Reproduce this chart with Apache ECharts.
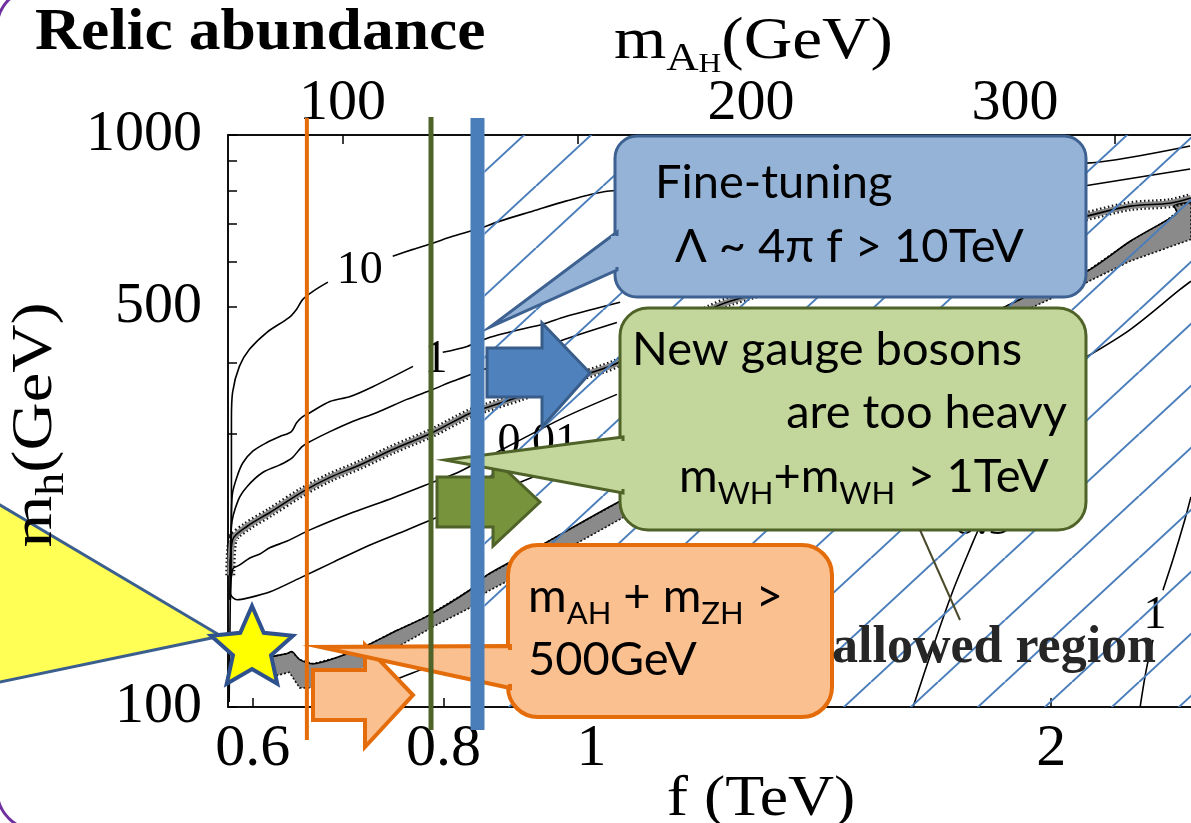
<!DOCTYPE html>
<html>
<head>
<meta charset="utf-8">
<title>Relic abundance</title>
<script src="https://cdn.jsdelivr.net/npm/echarts@6.0.0/dist/echarts.min.js"></script>
<style>
html, body { margin: 0; padding: 0; background: #fff; }
#chart { width: 1191px; height: 823px; }
</style>
</head>
<body>
<div id="chart"></div>
<script>
// axis ranges: f in TeV (bottom), m_h in GeV (left), both log scales
var fRange = [0.578, 2.611];
var mhRange = [100, 1000];
var fTicks = [0.6, 0.8, 1, 2];
var mhTicks = [100, 200, 300, 400, 500, 600, 700, 800, 900, 1000];
var mhLabels = [100, 500, 1000];
// top axis m_AH(GeV), given as the f where each value sits
var mAHLabelF = [0.687, 1.272, 1.894];
var mAHLabels = ['100', '200', '300'];
var mAHTickF = [0.687, 0.98, 2.202];

// cuts (f in TeV)
var fOrangeCut = 0.651;
var fGreenCut = 0.785;
var fBlueCut = 0.842;
var fHatchFrom = 0.851;

// contour lines [f, m_h]; null = gap where a label sits
var cont10 = [[0.579,102],[0.580,154],[0.581,230],[0.581,318],[0.582,355],[0.588,394],[0.597,422],[0.613,452],[0.634,480],[0.641,496],[0.647,516],[0.657,533],[0.672,553], null,
  [0.741,614],[0.764,631],[0.787,647],[0.811,665],[0.841,684],[0.871,707],[0.915,736],[0.963,767],[1.028,798],[2.111,893],[2.466,957]];
var cont1 = [[0.580,154],[0.581,219],[0.582,237],[0.586,253],[0.591,267],[0.600,280],[0.613,290],[0.625,297],[0.636,303],[0.641,314],[0.646,321],[0.654,327],[0.674,342],[0.695,349],[0.719,363],[0.764,394], null,
  [0.799,417],[0.829,427],[0.858,443],[0.898,457],[0.929,467],[0.963,482],[1.044,510], null, [2.111,816],[2.466,872]];
var cont3 = [[0.580,154],[0.581,207],[0.587,230],[0.595,243],[0.609,257],[0.625,265],[0.637,273],[0.646,285],[0.654,291],[0.674,303],[0.698,316],[0.723,327],[0.757,345],[0.787,359],[0.811,371],[0.953,436],[1.039,470]];
var cont5 = [[0.580,154],[0.582,174],[0.588,177],[0.597,182],[0.606,185],[0.616,190],[0.632,195],[0.654,204],[0.698,219],[0.741,232],[0.787,247],[0.820,258],[0.953,318],[1.039,352]];
var cont6 = [[0.580,181],[0.580,158],[0.586,154],[0.595,155],[0.616,159],[0.644,168],[0.677,179],[0.716,192],[0.757,204],[0.787,213],[0.894,246],[1.039,288]];
var cont7 = [[0.716,105],[0.741,111],[0.772,116],[0.791,119]];
var contRight = [[2.111,410],[2.253,457],[2.429,537],[2.469,555]];
var cont05 = [[1.796,207],[1.777,194],[1.725,160],[1.673,127],[1.624,100]];
var cont1Right = [[2.469,233],[2.447,213],[2.403,181],[2.367,160], null, [2.332,131],[2.308,116],[2.287,100]];

// relic band: thin upper arm (centre line) and thick lower arm (edges)
var bandUpper = [[0.580,170],[0.582,196],[0.595,207],[0.616,219],[0.647,238],[0.674,252],[0.705,265],[0.741,282],[0.787,302],[0.832,326],[0.854,334],[0.898,349],[0.968,374],[1.039,399],[1.232,512],[2.108,721],[2.253,751],[2.392,760],[2.469,776]];
var bandLowerTop = [[0.604,120],[0.613,122],[0.632,124],[0.636,125],[0.644,121],[0.657,119],[0.681,122],[0.708,127],[0.741,135],[0.780,144],[0.832,160],[0.854,170],[0.915,188],[1.044,229],[1.919,520],[2.111,578],[2.253,652],[2.381,710],[2.418,733],[2.407,751],[2.469,763]];
var bandLowerBottom = [[0.606,114],[0.618,113],[0.634,115],[0.644,108],[0.657,108],[0.684,111],[0.741,126],[0.791,139],[0.832,149],[0.854,159],[0.915,175],[1.044,213],[1.919,492],[2.111,553],[2.253,602],[2.469,657]];

// contour labels
var labelF = [0.705, 0.791, 0.922, 1.802, 2.339];
var labelMh = [578, 405, 290, 211, 144];
var labelText = ['10', '1', '0.01', '0.5', '1'];

var chart = echarts.init(document.getElementById('chart'));
var SERIF = '"Liberation Serif", "DejaVu Serif", serif';
var SANS = 'Lato, "Noto Sans", sans-serif';

function lg(v) { return Math.log10(v); }
function toXY(p) { return [lg(p[0]), lg(p[1])]; }

function segments(pts) {
  var out = [], cur = [];
  pts.forEach(function (p) {
    if (p === null) { if (cur.length) out.push(cur); cur = []; }
    else cur.push(toXY(p));
  });
  if (cur.length) out.push(cur);
  return out;
}

function lineSeries(pts, style, z) {
  return segments(pts).map(function (seg) {
    return { type: 'line', data: seg, symbol: 'none', smooth: 0.3, silent: true,
      lineStyle: style, z: z };
  });
}

function polygonSeries(pts, style, z) {
  return { type: 'custom', data: [[lg(1), lg(200)]], z: z, silent: true,
    renderItem: function (params, api) {
      return { type: 'polygon',
        shape: { points: pts.map(function (p) { return api.coord(toXY(p)); }) },
        style: style };
    } };
}

function hatchCanvas() {
  var w = 67, h = 62;
  var c = document.createElement('canvas');
  c.width = w; c.height = h;
  var g = c.getContext('2d');
  g.strokeStyle = '#4a7ebb';
  g.lineWidth = 2;
  [-w, 0, w].forEach(function (o) {
    g.beginPath(); g.moveTo(o, h); g.lineTo(o + w, 0); g.stroke();
  });
  return c;
}

var black = { color: '#000', width: 1.6 };
var series = [];
series.push(polygonSeries(bandLowerTop.concat(bandLowerBottom.slice().reverse()),
  { fill: '#8a8a8a', stroke: '#111', lineWidth: 1.6, lineDash: [2, 2] }, 2));
series = series.concat(lineSeries(bandLowerTop, black, 3));
series = series.concat(lineSeries(bandUpper, { color: '#111', width: 10, type: [1.5, 2.5] }, 2));
series = series.concat(lineSeries(bandUpper, { color: '#8a8a8a', width: 6 }, 2));
series = series.concat(lineSeries(bandUpper, black, 3));
[cont10, cont1, cont3, cont5, cont6, cont7, contRight, cont05, cont1Right].forEach(function (c) {
  series = series.concat(lineSeries(c, black, 3));
});
series.push({
  type: 'scatter', symbolSize: 0.1, z: 4, silent: true,
  itemStyle: { color: '#000', opacity: 1 },
  data: labelF.map(function (f, i) { return { value: toXY([f, labelMh[i]]), name: labelText[i] }; }),
  label: { show: true, position: 'inside', formatter: '{b}', color: '#000', opacity: 1,
    textBorderWidth: 0, fontFamily: SERIF, fontSize: 46 }
});
series.push({
  type: 'custom', z: 5, silent: true,
  encode: { x: [0, 2], y: [1, 3] },
  data: [[lg(fHatchFrom), lg(mhRange[0]), lg(fRange[1]), lg(mhRange[1])]],
  renderItem: function (params, api) {
    var p0 = api.coord([api.value(0), api.value(1)]);
    var p1 = api.coord([api.value(2), api.value(3)]);
    return { type: 'rect',
      shape: { x: p0[0], y: p1[1], width: p1[0] - p0[0], height: p0[1] - p1[1] },
      style: { fill: { image: hatchCanvas(), repeat: 'repeat' } } };
  }
});

function tevLabel(v) { return String(Math.round(Math.pow(10, v) * 10) / 10); }
function topLabel(v) {
  var best = 0;
  mAHLabelF.forEach(function (f, i) {
    if (Math.abs(lg(f) - v) < Math.abs(lg(mAHLabelF[best]) - v)) best = i;
  });
  return mAHLabels[best];
}
var axisLine = { show: true, onZero: false, lineStyle: { color: '#000', width: 1.5 } };
var tickStyle = { color: '#000', width: 1.5 };

chart.setOption({
  animation: false,
  grid: { left: 228, top: 135, width: 1000, height: 572, show: true,
    outerBoundsMode: 'none', containLabel: false,
    borderColor: '#000', borderWidth: 1.5 },
  xAxis: [{
    type: 'value', position: 'bottom', min: lg(fRange[0]), max: lg(fRange[1]),
    axisLine: axisLine, splitLine: { show: false },
    axisTick: { show: true, inside: true, length: 9, lineStyle: tickStyle, customValues: fTicks.map(lg) },
    axisLabel: { customValues: fTicks.map(lg), formatter: tevLabel, margin: 12,
      color: '#000', fontFamily: SERIF, fontSize: 60 }
  }, {
    type: 'value', position: 'top', min: lg(fRange[0]), max: lg(fRange[1]),
    axisLine: axisLine, splitLine: { show: false },
    axisTick: { show: true, inside: true, length: 9, lineStyle: tickStyle, customValues: mAHTickF.map(lg) },
    axisLabel: { customValues: mAHLabelF.map(lg), formatter: topLabel, margin: 2,
      color: '#000', fontFamily: SERIF, fontSize: 58 }
  }],
  yAxis: {
    type: 'value', min: lg(mhRange[0]), max: lg(mhRange[1]),
    axisLine: axisLine, splitLine: { show: false },
    axisTick: { show: true, inside: true, length: 9, lineStyle: tickStyle, customValues: mhTicks.map(lg) },
    axisLabel: { customValues: mhLabels.map(lg), margin: 26,
      formatter: function (v) { return String(Math.round(Math.pow(10, v))); },
      color: '#000', fontFamily: SERIF, fontSize: 58 }
  },
  series: series
});

// ---- slide annotations ----
function text(x, y, str, font, extra) {
  var el = { type: 'text', x: x, y: y, z: 40, silent: true,
    style: { text: str, font: font, fill: '#000', align: 'left', verticalAlign: 'middle' } };
  extra = extra || {};
  Object.keys(extra).forEach(function (k) {
    if (k === 'style') Object.assign(el.style, extra.style); else el[k] = extra[k];
  });
  return el;
}
function poly(pts, fill, stroke, lw, z) {
  return { type: 'polygon', z: z, silent: true, shape: { points: pts },
    style: { fill: fill, stroke: stroke, lineWidth: lw || 0 } };
}
function box(x, y, w, h, r, fill, stroke, lw, z) {
  return { type: 'rect', z: z, silent: true, shape: { x: x, y: y, width: w, height: h, r: r },
    style: { fill: fill, stroke: stroke, lineWidth: lw } };
}
function starPts(cx, cy, R, r) {
  var pts = [];
  for (var i = 0; i < 10; i++) {
    var a = -Math.PI / 2 + i * Math.PI / 5, d = i % 2 ? r : R;
    pts.push([cx + d * Math.cos(a), cy + d * Math.sin(a)]);
  }
  return pts;
}
function xPix(f) { return chart.convertToPixel({ xAxisIndex: 0 }, lg(f)); }
function vline(f, y1, y2, color, w) {
  var x = xPix(f);
  return { type: 'line', z: 30, silent: true, shape: { x1: x, y1: y1, x2: x, y2: y2 },
    style: { stroke: color, lineWidth: w } };
}

var BLUE_F = '#95b3d7', BLUE_S = '#3d6190';
var GREEN_F = '#c3d69b', GREEN_S = '#4f6228';
var ORANGE_F = '#fac090', ORANGE_S = '#e46c0a';
var body = '47px ' + SANS;
var subRich = function (size) {
  return {
    n: { font: size + 'px ' + SANS, fill: '#000', lineHeight: 64, verticalAlign: 'middle' },
    s: { font: Math.round(size * 0.66) + 'px ' + SANS, fill: '#000', lineHeight: 30, verticalAlign: 'bottom' }
  };
};

var g = [];
// arrows
g.push(poly([[487,348],[542,348],[542,323],[590,373],[542,427],[542,397],[487,397]], '#4f81bd', '#385d8a', 3, 20));
g.push(poly([[437,477],[493,477],[493,458],[540,502],[493,546],[493,527],[437,527]], '#77933c', GREEN_S, 3, 20));
g.push(poly([[313,670],[365,670],[365,645],[413,695],[365,747],[365,720],[313,720]], ORANGE_F, ORANGE_S, 4, 20));
// blue callout
g.push(box(615, 136, 471, 161, 22, BLUE_F, BLUE_S, 3, 21));
g.push(poly([[617,232],[490,327],[617,270]], BLUE_F, BLUE_S, 3, 22));
g.push(poly([[611,236],[621,236],[621,267],[611,267]], BLUE_F, null, 0, 23));
// green callout
g.push(box(620, 308, 466, 222, 28, GREEN_F, GREEN_S, 3, 21));
g.push(poly([[623,437],[445,460],[623,493]], GREEN_F, GREEN_S, 3, 22));
g.push(poly([[615,441],[627,441],[627,489],[615,489]], GREEN_F, null, 0, 23));
// orange callout
g.push(box(508, 545, 324, 172, 30, ORANGE_F, ORANGE_S, 4, 21));
g.push(poly([[510,646],[320,647],[510,688]], ORANGE_F, ORANGE_S, 4, 22));
g.push(poly([[503,650],[516,650],[516,684],[503,684]], ORANGE_F, null, 0, 23));
// cut lines
g.push(vline(fOrangeCut, 118, 740, '#e46c0a', 4));
g.push(vline(fGreenCut, 117, 730, '#4f6228', 5));
g.push(vline(fBlueCut, 118, 730, '#4a7ebb', 14));
// pointer for the allowed region
g.push({ type: 'line', z: 24, silent: true, shape: { x1: 920, y1: 530, x2: 960, y2: 620 },
  style: { stroke: '#4a4a2a', lineWidth: 2 } });
// yellow pointer and star
g.push(poly([[-5,502],[221,636],[-5,683]], '#ffff55', '#3a5f8f', 3, 32));
g.push(poly(starPts(252, 649, 43, 20), '#ffff00', '#2f528f', 4, 33));
// frame
g.push({ type: 'rect', z: 50, silent: true, shape: { x: -3, y: -12, width: 1300, height: 842, r: 40 },
  style: { fill: null, stroke: '#7030a0', lineWidth: 3 } });

// texts
g.push(text(35, 33, 'Relic abundance', 'bold 60px ' + SERIF, { scaleX: 1.06 }));
g.push(text(614, 42, '{m|m}{a|A}{h|H}{g|(GeV)}', '60px ' + SERIF, { scaleX: 1.12, style: { rich: {
  m: { font: '60px ' + SERIF, fill: '#000', lineHeight: 74, verticalAlign: 'middle' },
  a: { font: '40px ' + SERIF, fill: '#000', lineHeight: 38, verticalAlign: 'bottom' },
  h: { font: '28px ' + SERIF, fill: '#000', lineHeight: 22, verticalAlign: 'bottom' },
  g: { font: '60px ' + SERIF, fill: '#000', lineHeight: 74, verticalAlign: 'middle' }
} } }));
g.push(text(761, 800, 'f (TeV)', '58px ' + SERIF, { scaleX: 1.1, style: { align: 'center' } }));
g.push(text(36, 425, '{m|m}{s|h}{g|(GeV)}', '58px ' + SERIF, { rotation: Math.PI / 2, scaleX: 1.15, style: { align: 'center', rich: {
  m: { font: '58px ' + SERIF, fill: '#000', lineHeight: 72, verticalAlign: 'middle' },
  s: { font: '40px ' + SERIF, fill: '#000', lineHeight: 36, verticalAlign: 'bottom' },
  g: { font: '58px ' + SERIF, fill: '#000', lineHeight: 72, verticalAlign: 'middle' }
} } }));
g.push(text(832, 649, 'allowed region', 'bold 52px ' + SERIF, { z: 26, style: { fill: '#262626' } }));

g.push(text(655, 183, 'Fine-tuning', body));
g.push(text(675, 247, 'Λ ~ 4π f > 10TeV', body));
g.push(text(632, 350, 'New gauge bosons', body));
g.push(text(1067, 413, 'are too heavy', body, { style: { align: 'right' } }));
g.push(text(679, 477, '{n|m}{s|WH}{n|+m}{s|WH}{n| > 1TeV}', body, { style: { rich: subRich(47) } }));
g.push(text(528, 597, '{n|m}{s|AH}{n| + m}{s|ZH}{n| >}', body, { style: { rich: subRich(47) } }));
g.push(text(528, 660, '500GeV', body));

chart.setOption({ graphic: { elements: g } });
</script>
</body>
</html>
